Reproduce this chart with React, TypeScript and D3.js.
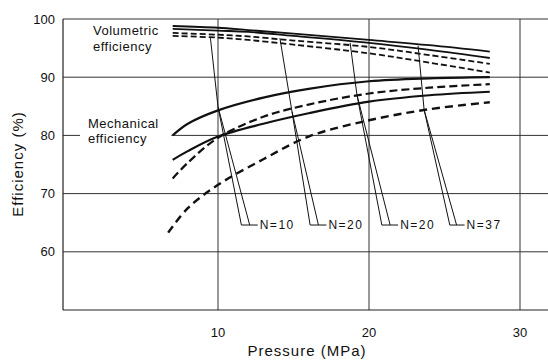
import React from "react";
import * as d3 from "d3";

// pressure points (MPa) for each curve
const volP = [7, 10, 12, 15, 20, 24, 28];
const vol1 = [98.8, 98.5, 98.1, 97.5, 96.4, 95.5, 94.4];
const vol2 = [98.3, 98.0, 97.8, 97.1, 95.9, 94.7, 93.3];
const vol3 = [97.6, 97.3, 97.0, 96.3, 95.2, 93.8, 92.3];
const vol4 = [97.1, 96.8, 96.4, 95.6, 94.1, 92.5, 90.8];

const mechP = [7, 8, 10, 13, 16, 20, 24, 28];
const mech1 = [80.0, 82.0, 84.3, 86.5, 88.0, 89.3, 89.8, 90.0];
const mech2 = [72.6, 75.3, 79.6, 83.2, 85.3, 87.2, 88.2, 88.8];
const mech3 = [75.8, 77.3, 79.8, 82.0, 83.8, 85.8, 86.9, 87.5];
const mech4P = [6.7, 8, 10, 13, 16, 20, 24, 28];
const mech4 = [63.3, 67.5, 71.5, 75.9, 79.8, 82.6, 84.5, 85.7];

// N guide lines
const nLabels = ["N=10", "N=20", "N=20", "N=37"];
const nTopP = [9.5, 14.1, 18.75, 23.25];
const nTopE = [96.7, 96.7, 95.9, 95.4];
const nSplitP = [10.0, 14.9, 19.2, 23.65];
const nSplitE = [84.9, 84.1, 87.0, 84.4];
const nLeftP = [11.55, 16.1, 20.85, 25.35];
const nRightP = [12.1, 16.65, 21.4, 25.8];
const nBottomE = 64.6;

const xTicks = [10, 20, 30];
const yTicks = [60, 70, 80, 90, 100];

const W = 548;
const H = 361;

export default function App() {
  const x = d3.scaleLinear().domain([0, 30]).range([67, 520]);
  const y = d3.scaleLinear().domain([50, 100]).range([310, 19]);
  const left = 63;
  const bottom = 310;

  const line = d3
    .line<[number, number]>()
    .x((d) => x(d[0]))
    .y((d) => y(d[1]))
    .curve(d3.curveCatmullRom.alpha(0.5));

  const pts = (ps: number[], vs: number[]) =>
    ps.map((p, i) => [p, vs[i]] as [number, number]);

  const font = "'Liberation Sans', Arial, sans-serif";

  const curves = [
    { d: pts(volP, vol1), dash: "", w: 1.8 },
    { d: pts(volP, vol2), dash: "", w: 1.8 },
    { d: pts(volP, vol3), dash: "6,3", w: 1.8 },
    { d: pts(volP, vol4), dash: "6,3", w: 1.8 },
    { d: pts(mechP, mech1), dash: "", w: 2.2 },
    { d: pts(mechP, mech2), dash: "8,4", w: 2.2 },
    { d: pts(mechP, mech3), dash: "", w: 2.2 },
    { d: pts(mech4P, mech4), dash: "8,5", w: 2.4 },
  ];

  return (
    <svg
      width={W}
      height={H}
      style={{ position: "absolute", left: 0, top: 0, background: "#fff" }}
    >
      {/* grid */}
      {yTicks.map((t) => (
        <line
          key={"gy" + t}
          x1={left}
          x2={W}
          y1={y(t)}
          y2={y(t)}
          stroke="#333"
          strokeWidth={1}
        />
      ))}
      {xTicks.map((t) => (
        <line
          key={"gx" + t}
          x1={x(t)}
          x2={x(t)}
          y1={y(100)}
          y2={bottom}
          stroke="#333"
          strokeWidth={1}
        />
      ))}
      <line x1={left} x2={left} y1={y(100)} y2={bottom} stroke="#222" strokeWidth={1.2} />
      <line x1={left} x2={W} y1={bottom} y2={bottom} stroke="#222" strokeWidth={1.2} />

      {/* tick labels */}
      {yTicks.map((t) => (
        <text
          key={"ty" + t}
          x={55}
          y={y(t) + 4.5}
          textAnchor="end"
          fontFamily={font}
          fontSize={13}
          fill="#111"
        >
          {t}
        </text>
      ))}
      {xTicks.map((t) => (
        <text
          key={"tx" + t}
          x={x(t)}
          y={337}
          textAnchor="middle"
          fontFamily={font}
          fontSize={13}
          fill="#111"
        >
          {t}
        </text>
      ))}
      <text
        x={307}
        y={356}
        textAnchor="middle"
        fontFamily={font}
        fontSize={15}
        letterSpacing={1}
        fill="#111"
      >
        Pressure (MPa)
      </text>
      <text
        transform={`translate(23,164) rotate(-90)`}
        textAnchor="middle"
        fontFamily={font}
        fontSize={15}
        letterSpacing={1}
        fill="#111"
      >
        Efficiency (%)
      </text>

      {/* curve labels */}
      <text x={93} y={35} fontFamily={font} fontSize={13} letterSpacing={0.5} fill="#111">
        Volumetric
      </text>
      <text x={93} y={51} fontFamily={font} fontSize={13} letterSpacing={0.5} fill="#111">
        efficiency
      </text>
      <rect x={80} y={114} width={x(6.9) - 80} height={32} fill="#fff" />
      <text x={88} y={128} fontFamily={font} fontSize={13} letterSpacing={0.5} fill="#111">
        Mechanical
      </text>
      <text x={88} y={143} fontFamily={font} fontSize={13} letterSpacing={0.5} fill="#111">
        efficiency
      </text>

      {/* N guide lines */}
      {nLabels.map((lab, i) => {
        const yb = y(nBottomE);
        const xl = x(nLeftP[i]);
        const xr = x(nRightP[i]);
        return (
          <g key={"n" + i} stroke="#111" strokeWidth={1} fill="none">
            <polyline
              points={`${x(nTopP[i])},${y(nTopE[i])} ${x(nSplitP[i])},${y(nSplitE[i])} ${xl},${yb}`}
            />
            <line x1={x(nSplitP[i])} y1={y(nSplitE[i])} x2={xr} y2={yb} />
            <line x1={xl} y1={yb} x2={xr + 8} y2={yb} />
            <text
              x={xr + 10}
              y={yb + 4}
              stroke="none"
              fill="#111"
              fontFamily={font}
              fontSize={12}
              letterSpacing={1.5}
            >
              {lab}
            </text>
          </g>
        );
      })}

      {/* efficiency curves */}
      {curves.map((c, i) => (
        <path
          key={"c" + i}
          d={line(c.d) || ""}
          fill="none"
          stroke="#111"
          strokeWidth={c.w}
          strokeDasharray={c.dash}
        />
      ))}
    </svg>
  );
}
